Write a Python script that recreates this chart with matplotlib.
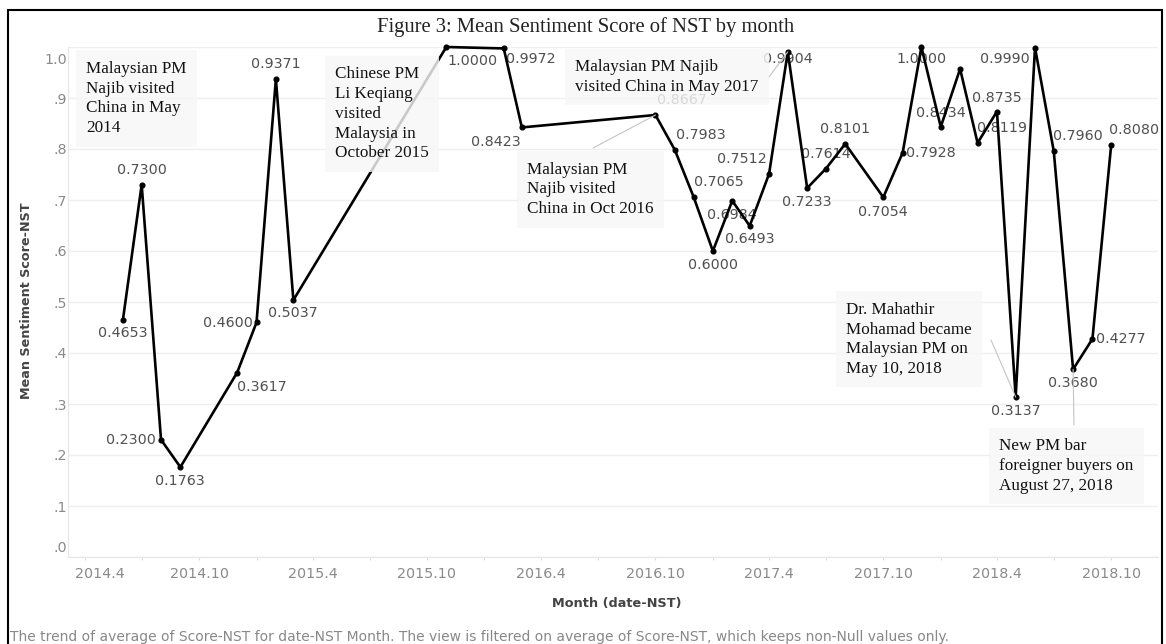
#plot.py


#COMMENT: Imports.

import numpy as np;
import pandas as pd;
import matplotlib;
matplotlib.use("Agg");
import matplotlib.pyplot as plt;
from matplotlib.patches import Rectangle;
from matplotlib.transforms import ScaledTranslation;


#COMMENT: Data (one point per month that has articles).

months = ["2014-06", "2014-07", "2014-08", "2014-09", "2014-12", "2015-01", "2015-02", "2015-03",
          "2015-11", "2016-02", "2016-03", "2016-10", "2016-11", "2016-12", "2017-01", "2017-02",
          "2017-03", "2017-04", "2017-05", "2017-06", "2017-07", "2017-08", "2017-10", "2017-11",
          "2017-12", "2018-01", "2018-02", "2018-03", "2018-04", "2018-05", "2018-06", "2018-07",
          "2018-08", "2018-09", "2018-10"];

scores = [0.4653, 0.7300, 0.2300, 0.1763, 0.3617, 0.4600, 0.9371, 0.5037,
          1.0000, 0.9972, 0.8423, 0.8667, 0.7983, 0.7065, 0.6000, 0.6984,
          0.6493, 0.7512, 0.9904, 0.7233, 0.7614, 0.8101, 0.7054, 0.7928,
          1.0000, 0.8434, 0.9570, 0.8119, 0.8735, 0.3137, 0.9990, 0.7960,
          0.3680, 0.4277, 0.8080];

#COMMENT: Where each value label sits relative to its mark, in pixels (None = no label).

label_offsets = [(0, -13), (0, 15), (-30, 0), (0, -14), (25, -14), (-29, -1), (0, 15), (0, -13),
                 (26, -14), (27, -11), (-26, -15), (26, 15), (26, 15), (25, 15), (0, -14), (0, -14),
                 (0, -13), (-27, 15), (0, -7), (0, -14), (0, 15), (0, 15), (0, -15), (28, 0),
                 (0, -12), (0, 14), None, (24, 15), (0, 14), (0, -14), (-30, -11), (24, 15),
                 (0, -14), (28, 0), (23, 15)];

y_ticks = np.round(np.arange(0, 1.01, 0.1), 1);
y_tick_labels = [".0", ".1", ".2", ".3", ".4", ".5", ".6", ".7", ".8", ".9", "1.0"];

#COMMENT: Event notes: text, text anchor (axes fraction), leader start (axes fraction), month it points at.

notes = [
    ("Malaysian PM\nNajib visited\nChina in May\n2014", (0.0165, 0.899), None, None),
    ("Chinese PM\nLi Keqiang\nvisited\nMalaysia in\nOctober 2015", (0.245, 0.869), None, None),
    ("Malaysian PM Najib\nvisited China in May 2017", (0.4651, 0.941), (0.643, 0.941), "2017-05"),
    ("Malaysian PM\nNajib visited\nChina in Oct 2016", (0.4211, 0.7206), (0.4817, 0.802), "2016-10"),
    ("Dr. Mahathir\nMohamad became\nMalaysian PM on\nMay 10, 2018", (0.7138, 0.4265), (0.8468, 0.4255), "2018-05"),
    ("New PM bar\nforeigner buyers on\nAugust 27, 2018", (0.8541, 0.1784), (0.9229, 0.2588), "2018-08"),
];


#COMMENT: Canvas and plot area (pixel layout of the reference).

W, H = 1166, 644;
fig = plt.figure(figsize = (W / 100, H / 100), dpi = 100);
ax = fig.add_axes([68 / W, 1 - 557 / H, 1090 / W, 510 / H]);

dates = pd.to_datetime(months);
value_of = dict(zip(months, scores));

ax.plot(dates, scores, color = "black", lw = 1.9, marker = "o", ms = 3.4, zorder = 3, clip_on = False);

#COMMENT: Value labels.

for d, v, off in zip(dates, scores, label_offsets):
    if off is None:
        continue;
    ax.annotate(f"{v:.4f}", (d, v), xytext = off, textcoords = "offset pixels",
                ha = "center", va = "center", fontsize = 10.3, color = "#505050",
                family = "DejaVu Sans", zorder = 2, annotation_clip = False);

#COMMENT: Notes with their leader lines.

for text, pos, lead, month in notes:
    if lead is not None:
        ax.annotate("", xy = (pd.Timestamp(month), value_of[month]), xytext = lead,
                    textcoords = "axes fraction",
                    arrowprops = dict(arrowstyle = "-", color = "#c4c4c4", lw = 0.8,
                                      shrinkA = 0, shrinkB = 0),
                    zorder = 4, annotation_clip = False);
    ax.text(pos[0], pos[1], text, transform = ax.transAxes, ha = "left", va = "center",
            family = "Liberation Serif", fontsize = 12.3, color = "#111111", linespacing = 1.32,
            bbox = dict(boxstyle = "square,pad=0.6", fc = "#f7f7f7", ec = "none", alpha = 0.82),
            zorder = 5, clip_on = False);

#COMMENT: Axes.

ax.set_xlim(pd.Timestamp("2014-03-05"), pd.Timestamp("2018-12-15"));
ax.set_ylim(0, 1.0);

major = pd.date_range("2014-04-01", "2018-10-01", freq = "6MS");
minor = pd.date_range("2014-07-01", "2018-07-01", freq = "6MS");
ax.set_xticks(major);
ax.set_xticklabels([f"{d.year}.{d.month}" for d in major]);
ax.set_xticks(minor, minor = True);
ax.tick_params(axis = "x", which = "both", length = 2.4, width = 0.8, color = "#dddddd",
               pad = 5, labelsize = 10.3, labelcolor = "#8a8a8a");

ax.set_yticks(y_ticks);
ax.set_yticklabels(y_tick_labels);
ax.tick_params(axis = "y", length = 0, pad = 0.8, labelsize = 10.3, labelcolor = "#8a8a8a");

#COMMENT: Nudge the edge labels inwards like the original.

xl = ax.get_xticklabels();
xl[0].set_transform(xl[0].get_transform() + ScaledTranslation(15 / 100, 0, fig.dpi_scale_trans));
yl = ax.get_yticklabels();
yl[0].set_transform(yl[0].get_transform() + ScaledTranslation(0, 10 / 100, fig.dpi_scale_trans));
yl[-1].set_transform(yl[-1].get_transform() + ScaledTranslation(0, -11 / 100, fig.dpi_scale_trans));

ax.grid(axis = "y", color = "#efefef", lw = 1.0, zorder = 0);
ax.set_axisbelow(True);
for side in ["top", "right"]:
    ax.spines[side].set_visible(False);
for side in ["left", "bottom"]:
    ax.spines[side].set_color("#e6e6e6");
    ax.spines[side].set_linewidth(0.8);

#COMMENT: Titles and captions.

fig.text(585.5 / W, 1 - 27 / H, "Figure 3: Mean Sentiment Score of NST by month", ha = "center",
         va = "center", family = "Liberation Serif", fontsize = 14.9, color = "#222222");
fig.text(617 / W, 1 - 603 / H, "Month (date-NST)", ha = "center", va = "center",
         fontsize = 9.3, weight = "bold", color = "#444444");
fig.text(27 / W, 1 - 301 / H, "Mean Sentiment Score-NST", ha = "center", va = "center",
         rotation = 90, fontsize = 9.2, weight = "bold", color = "#444444");
fig.text(10 / W, 1 - 637 / H,
         "The trend of average of Score-NST for date-NST Month. The view is filtered on average of "
         "Score-NST, which keeps non-Null values only.",
         ha = "left", va = "center", fontsize = 10.0, color = "#888888");

#COMMENT: Black frame around the whole figure.

fig.add_artist(Rectangle((8 / W, -0.1), (1162 - 8) / W, (H - 10) / H + 0.1, transform = fig.transFigure,
                         fill = False, ec = "black", lw = 1.5));

#COMMENT: Save and clean up.

plt.savefig("out.png", dpi = 100);
plt.close();
